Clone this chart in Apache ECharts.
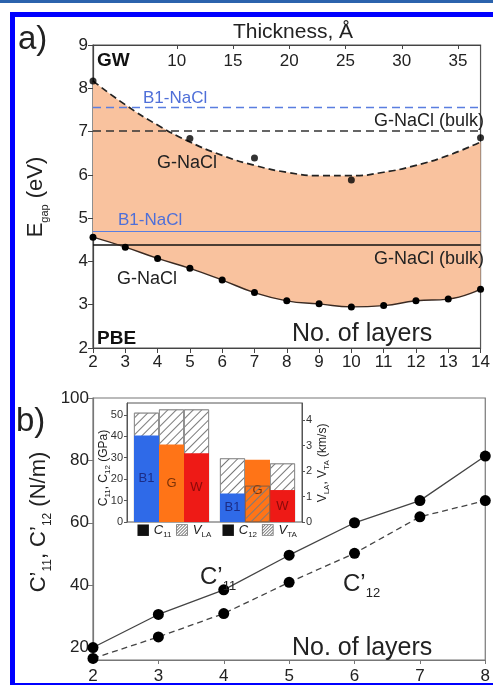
<!DOCTYPE html>
<html>
<head>
<meta charset="utf-8">
<script src="https://cdn.jsdelivr.net/npm/echarts@6/dist/echarts.min.js"></script>
<style>
  html, body { margin: 0; padding: 0; background: #fff; }
  #main { width: 493px; height: 685px; }
</style>
</head>
<body>
<div id="main"></div>
<script>
// ---------- panel a: band gap vs number of layers
var layers = [2, 3, 4, 5, 6, 7, 8, 9, 10, 11, 12, 13, 14];
var pbeGap = [4.56, 4.33, 4.07, 3.84, 3.57, 3.28, 3.09, 3.02, 2.95, 2.98, 3.09, 3.13, 3.36];
var gwFit = [8.17, 7.62, 7.15, 6.76, 6.45, 6.22, 6.06, 5.98, 5.98, 6.06, 6.22, 6.45, 6.76];
var gwLayers = [2, 5, 7, 10, 14];
var gwGap = [8.17, 6.84, 6.39, 5.88, 6.86];
var b1GW = 7.56, bulkGW = 7.02, b1PBE = 4.70, bulkPBE = 4.39;
var thicknessTicks = [10, 15, 20, 25, 30, 35];

// ---------- panel b: elastic constants
var layersB = [2, 3, 4, 5, 6, 7, 8];
var c11Layer = [20.0, 30.6, 38.5, 49.6, 60.0, 67.1, 81.4];
var c12Layer = [16.5, 23.4, 30.9, 40.9, 50.2, 61.9, 67.1];
var ticksB = [20, 40, 60, 80, 100];

// ---------- inset: bulk phases
var phases = ["B1", "G", "W"];
var c11 = [40.4, 36.2, 32.1];
var vLA = [4.29, 4.42, 4.42];
var c12 = [13.3, 29.0, 14.9];
var vTA = [2.5, 1.42, 2.3];

var FONT = "Liberation Sans, Arial, sans-serif";
var phaseColor = { B1: "#2f6ae8", G: "#ff7417", W: "#ee1a16" };
var phaseText = { B1: "#1b2c86", G: "#7a3208", W: "#8a0a0a" };
var gpaMax = 55.5, kmsMax = 4.67;

const pairs = (xs, ys) => xs.map((x, i) => [x, ys[i]]);
var layerCats = layers.map(String);

var hatch = {
  symbol: "rect",
  symbolSize: 1,
  dashArrayX: [1, 0],
  dashArrayY: [1, 4.5],
  rotation: -Math.PI / 4,
  color: "#7a7a7a",
};

function phaseBars(vals) {
  return vals.map((v, i) => ({
    value: v,
    itemStyle: { color: phaseColor[phases[i]] },
    label: { color: phaseText[phases[i]] },
  }));
}

function txt(x, y, text, size, opts) {
  opts = opts || {};
  return {
    type: "text",
    x: x,
    y: y,
    rotation: opts.rotation || 0,
    z: 100,
    style: {
      text: text,
      fill: opts.color || "#222",
      font: (opts.weight || "normal") + " " + size + "px " + FONT,
      textAlign: opts.align || "left",
      textVerticalAlign: "middle",
      rich: opts.rich,
    },
  };
}

function subRich(size, sub) {
  return {
    m: { fontSize: size, fontFamily: FONT, fill: "#222", lineHeight: size * 1.3 },
    s: { fontSize: sub, fontFamily: FONT, fill: "#222", lineHeight: sub, verticalAlign: "bottom" },
    i: { fontSize: size, fontFamily: FONT, fill: "#222", fontStyle: "italic", lineHeight: size * 1.3 },
    k: { fontSize: size + 2, fontFamily: "DejaVu Sans", fill: "#111", lineHeight: size * 1.3 },
    h: { fontSize: size + 2, fontFamily: "DejaVu Sans", fill: "#777", lineHeight: size * 1.3 },
  };
}

var axisLbl = { fontSize: 17, color: "#222", fontFamily: FONT };

var option = {
  animation: false,
  backgroundColor: "#fff",
  grid: [
    { left: 93, top: 45, width: 392, height: 303, show: true, borderColor: "#555", borderWidth: 1.2 },
    { left: 93, top: 398, width: 393, height: 264, show: true, borderColor: "#777", borderWidth: 1.2 },
    { left: 127, top: 403, width: 175, height: 119, show: true, backgroundColor: "#fff", borderColor: "#555", borderWidth: 1 },
    { left: 134, top: 403, width: 75, height: 119 },
    { left: 220, top: 403, width: 75, height: 119 },
  ],
  xAxis: [
    {
      gridIndex: 0, type: "category", data: layerCats, boundaryGap: false,
      axisLine: { lineStyle: { color: "#444", width: 1.2 } },
      axisTick: { length: 5, interval: 0, lineStyle: { color: "#444" } },
      axisLabel: Object.assign({ margin: 6, interval: 0 }, axisLbl),
      splitLine: { show: false },
    },
    {
      gridIndex: 0, type: "value", position: "top", min: 2.55, max: 37,
      axisLine: { lineStyle: { color: "#444", width: 1.2 } },
      axisTick: { inside: true, length: 4, customValues: thicknessTicks, lineStyle: { color: "#444" } },
      axisLabel: Object.assign({ inside: true, margin: 8, customValues: thicknessTicks }, axisLbl),
      splitLine: { show: false },
    },
    {
      gridIndex: 1, type: "value", min: 2, max: 8, interval: 1,
      axisLine: { lineStyle: { color: "#777", width: 1.2 } },
      axisTick: { length: 4, lineStyle: { color: "#777" } },
      axisLabel: Object.assign({ margin: 8 }, axisLbl),
      splitLine: { show: false },
    },
    { gridIndex: 3, type: "category", data: phases, show: false },
    { gridIndex: 4, type: "category", data: phases, show: false },
    { gridIndex: 2, type: "value", min: 0, max: 1, show: false },
  ],
  yAxis: [
    {
      gridIndex: 0, type: "value", min: 2, max: 9, interval: 1,
      axisLine: { show: true, lineStyle: { color: "#444", width: 1.2 } },
      axisTick: { show: true, length: 5, lineStyle: { color: "#444" } },
      axisLabel: Object.assign({ margin: 5 }, axisLbl),
      splitLine: { show: false },
    },
    {
      gridIndex: 1, type: "value", min: 16, max: 100,
      axisLine: { show: true, lineStyle: { color: "#777", width: 1.2 } },
      axisTick: { show: true, length: 5, customValues: ticksB, lineStyle: { color: "#777" } },
      axisLabel: Object.assign({ margin: 4, customValues: ticksB }, axisLbl),
      splitLine: { show: false },
    },
    {
      gridIndex: 2, type: "value", min: 0, max: gpaMax, interval: 10,
      axisLine: { show: true, lineStyle: { color: "#555" } },
      axisTick: { show: true, length: 3, lineStyle: { color: "#555" } },
      axisLabel: { fontSize: 11, color: "#333", margin: 4, fontFamily: FONT, showMaxLabel: false },
      splitLine: { show: false },
    },
    {
      gridIndex: 2, type: "value", position: "right", min: 0, max: kmsMax, interval: 1,
      axisLine: { show: true, lineStyle: { color: "#555" } },
      axisTick: { show: true, length: 3, lineStyle: { color: "#555" } },
      axisLabel: { fontSize: 11, color: "#333", margin: 4, fontFamily: FONT, showMaxLabel: false },
      splitLine: { show: false },
    },
    { gridIndex: 3, type: "value", min: 0, max: gpaMax, show: false },
    { gridIndex: 3, type: "value", min: 0, max: kmsMax, show: false },
    { gridIndex: 4, type: "value", min: 0, max: gpaMax, show: false },
    { gridIndex: 4, type: "value", min: 0, max: kmsMax, show: false },
  ],
  series: [
    // orange band between PBE and GW curves
    {
      type: "line", xAxisIndex: 0, yAxisIndex: 0, stack: "band", smooth: true,
      symbol: "none", silent: true, lineStyle: { opacity: 0 },
      data: pbeGap, z: 1,
    },
    {
      type: "line", xAxisIndex: 0, yAxisIndex: 0, stack: "band", smooth: true,
      symbol: "none", silent: true, lineStyle: { opacity: 0 },
      areaStyle: { color: "#f9c29e", opacity: 1 },
      data: gwFit.map((g, i) => +(g - pbeGap[i]).toFixed(3)), z: 1,
    },
    // reference lines (bulk)
    {
      type: "line", xAxisIndex: 0, yAxisIndex: 0, data: [], z: 3,
      markLine: {
        silent: true, symbol: "none", label: { show: false },
        data: [
          { yAxis: b1GW, lineStyle: { color: "#5a7ee0", type: [8, 5], width: 1.4 } },
          { yAxis: bulkGW, lineStyle: { color: "#333", type: [8, 5], width: 1.6 } },
          { yAxis: b1PBE, lineStyle: { color: "#5a7ee0", type: "solid", width: 1.2 } },
          { yAxis: bulkPBE, lineStyle: { color: "#111", type: "solid", width: 1.6 } },
        ],
      },
    },
    {
      type: "line", xAxisIndex: 0, yAxisIndex: 0, smooth: true, symbol: "none",
      lineStyle: { color: "#222", width: 1.7, type: [7, 4] },
      data: gwFit, z: 4,
    },
    {
      type: "scatter", xAxisIndex: 0, yAxisIndex: 0, symbolSize: 7,
      itemStyle: { color: "#000" }, data: pairs(gwLayers.map(String), gwGap), z: 5,
    },
    {
      type: "line", xAxisIndex: 0, yAxisIndex: 0, smooth: true, symbol: "circle", symbolSize: 7,
      itemStyle: { color: "#000" }, lineStyle: { color: "#3a2a22", width: 1.4 },
      data: pbeGap, z: 5,
    },
    // panel b
    {
      type: "line", xAxisIndex: 2, yAxisIndex: 1, symbol: "circle", symbolSize: 11,
      itemStyle: { color: "#000" }, lineStyle: { color: "#444", width: 1.3 },
      data: pairs(layersB, c11Layer), z: 5,
    },
    {
      type: "line", xAxisIndex: 2, yAxisIndex: 1, symbol: "circle", symbolSize: 11,
      itemStyle: { color: "#000" }, lineStyle: { color: "#444", width: 1.3, type: [6, 4] },
      data: pairs(layersB, c12Layer), z: 5,
    },
    // inset, C11 / V_LA
    {
      type: "bar", xAxisIndex: 3, yAxisIndex: 5, barWidth: "100%", barGap: "-100%",
      itemStyle: { color: "#fff", borderColor: "#8a8a8a", borderWidth: 0.8, decal: hatch },
      data: vLA, z: 6,
    },
    {
      type: "bar", xAxisIndex: 3, yAxisIndex: 4, barWidth: "100%", barGap: "-100%",
      label: { show: true, position: "inside", formatter: "{b}", fontSize: 13, fontFamily: FONT },
      data: phaseBars(c11), z: 7,
    },
    // inset, C12 / V_TA
    {
      type: "bar", xAxisIndex: 4, yAxisIndex: 7, barWidth: "100%", barGap: "-100%",
      itemStyle: { color: "#fff", borderColor: "#8a8a8a", borderWidth: 0.8, decal: hatch },
      data: vTA, z: 6,
    },
    {
      type: "bar", xAxisIndex: 4, yAxisIndex: 6, barWidth: "100%", barGap: "-100%",
      label: { show: true, position: "inside", formatter: "{b}", fontSize: 13, fontFamily: FONT },
      data: phaseBars(c12), z: 7,
    },
    {
      // hatch drawn over the colour where the velocity bar is shorter
      type: "bar", xAxisIndex: 4, yAxisIndex: 7, barWidth: "100%", barGap: "-100%",
      itemStyle: { color: "rgba(0,0,0,0)", borderColor: "#8a5a3a", borderWidth: 0.6, decal: hatch },
      data: vTA.map((v, i) => (v / kmsMax < c12[i] / gpaMax ? v : "-")), z: 8,
    },
  ],
  graphic: [
    // blue frame
    { type: "rect", shape: { x: 0, y: 0, width: 493, height: 3 }, style: { fill: "#2b63ad" }, z: 200 },
    { type: "rect", shape: { x: 10, y: 12, width: 483, height: 5 }, style: { fill: "#0000ff" }, z: 200 },
    { type: "rect", shape: { x: 10, y: 12, width: 5, height: 673 }, style: { fill: "#0000ff" }, z: 200 },
    { type: "rect", shape: { x: 10, y: 683, width: 483, height: 3 }, style: { fill: "#0000ff" }, z: 200 },

    // panel a
    txt(18, 40, "a)", 33),
    txt(293, 32, "Thickness, Å", 21, { align: "center" }),
    txt(97, 61, "GW", 19, { weight: "bold", color: "#111" }),
    txt(97, 339, "PBE", 19, { weight: "bold", color: "#111" }),
    txt(143, 98, "B1-NaCl", 17, { color: "#4f6fd8" }),
    txt(484, 121, "G-NaCl (bulk)", 18, { align: "right" }),
    txt(157, 163, "G-NaCl", 18),
    txt(118, 220, "B1-NaCl", 17, { color: "#4f6fd8" }),
    txt(484, 259, "G-NaCl (bulk)", 18, { align: "right" }),
    txt(117, 279, "G-NaCl", 18),
    txt(292, 334, "No. of layers", 25),
    txt(36, 197, "{m|E}{s|gap}{m| (eV)}", 21, { rotation: Math.PI / 2, align: "center", rich: subRich(22, 11) }),

    // panel b
    txt(16, 422, "b)", 33),
    txt(292, 648, "No. of layers", 25),
    txt(200, 577, "{m|C’}{s|11}", 24, { rich: subRich(24, 13) }),
    txt(343, 584, "{m|C’}{s|12}", 24, { rich: subRich(24, 13) }),
    txt(39, 522, "{m|C’}{s|11}{m|, C’}{s|12}{m| (N/m)}", 21, { rotation: Math.PI / 2, align: "center", rich: subRich(22, 12) }),

    // inset names and legend
    txt(104, 468, "{m|C}{s|11}{m|, C}{s|12}{m| (GPa)}", 12, { rotation: Math.PI / 2, align: "center", rich: subRich(12, 8) }),
    txt(323, 463, "{m|V}{s|LA}{m|, V}{s|TA}{m| (km/s)}", 12, { rotation: Math.PI / 2, align: "center", rich: subRich(12, 8) }),
    txt(136, 530, "{k|■} {i|C}{s|11} {h|▨} {i|V}{s|LA}", 13, { rich: subRich(13, 8) }),
    txt(221, 530, "{k|■} {i|C}{s|12} {h|▨} {i|V}{s|TA}", 13, { rich: subRich(13, 8) }),
  ],
};

var myChart = echarts.init(document.getElementById("main"));
myChart.setOption(option);
</script>
</body>
</html>
